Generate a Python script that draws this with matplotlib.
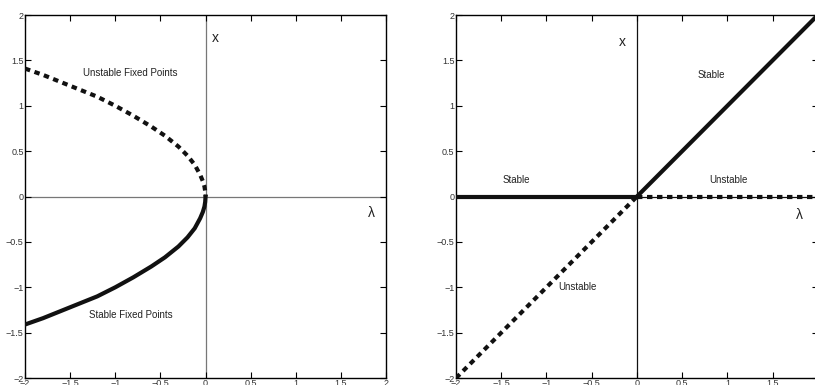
import matplotlib.pyplot as plt

plt.rcParams['font.family'] = ['Liberation Sans', 'DejaVu Sans']

# saddle-node branch
lam_branch = [-2.0, -1.8, -1.6, -1.4, -1.2, -1.0, -0.8, -0.6, -0.45, -0.3, -0.2,
              -0.12, -0.06, -0.03, -0.012, -0.004, 0.0]
x_unstable = [1.41, 1.34, 1.26, 1.18, 1.10, 1.0, 0.89, 0.77, 0.67, 0.55, 0.45,
              0.35, 0.24, 0.17, 0.11, 0.06, 0.0]
x_stable = [-1.41, -1.34, -1.26, -1.18, -1.10, -1.0, -0.89, -0.77, -0.67, -0.55, -0.45,
            -0.35, -0.24, -0.17, -0.11, -0.06, 0.0]

# transcritical branches, right panel
lam_neg = [-2.0, 0.0]
lam_pos = [0.0, 2.0]
x_zero = [0.0, 0.0]
x_diag_neg = [-2.0, 0.0]
x_diag_pos = [0.0, 2.0]

ticks_x = [-2, -1.5, -1, -0.5, 0, 0.5, 1, 1.5, 2]
ticks_y = [-2, -1.5, -1, -0.5, 0, 0.5, 1, 1.5, 2]
tick_labels = ['\u22122', '\u22121.5', '\u22121', '\u22120.5', '0', '0.5', '1', '1.5', '2']

dots = (0, (1.3, 1.1))


def style_axes(ax, axis_color):
    ax.set_xlim(-2, 2)
    ax.set_ylim(-2, 2)
    ax.set_xticks(ticks_x)
    ax.set_yticks(ticks_y)
    ax.set_xticklabels(tick_labels)
    ax.set_yticklabels(tick_labels)
    ax.tick_params(direction='in', length=4, width=0.8, top=True, right=True,
                   labelsize=6.5, labelcolor='#333333', pad=1)
    for s in ax.spines.values():
        s.set_linewidth(1.0)
    ax.axhline(0, color=axis_color, lw=0.9, zorder=1)
    ax.axvline(0, color=axis_color, lw=0.9, zorder=1)


fig = plt.figure(figsize=(8.15, 3.85), dpi=100)
ax1 = fig.add_axes([0.0307, 0.018, 0.443, 0.943])
ax2 = fig.add_axes([0.5595, 0.018, 0.444, 0.943])

# left panel
style_axes(ax1, '#777777')
ax1.plot(lam_branch, x_unstable, color='#111111', lw=3, linestyle=dots, zorder=3)
ax1.plot(lam_branch, x_stable, color='#111111', lw=3, zorder=3)
ax1.text(-0.83, 1.36, 'Unstable Fixed Points', fontsize=7, ha='center', va='center', color='#222222')
ax1.text(-0.83, -1.31, 'Stable Fixed Points', fontsize=7, ha='center', va='center', color='#222222')
ax1.text(0.07, 1.75, 'x', fontsize=10, ha='left', va='center', color='#222222')
ax1.text(1.84, -0.18, '\u03bb', fontsize=10, ha='center', va='center', color='#222222')

# right panel
style_axes(ax2, '#111111')
ax2.plot(lam_neg, x_zero, color='#111111', lw=3, zorder=3)
ax2.plot(lam_pos, x_zero, color='#111111', lw=3, linestyle=dots, zorder=3)
ax2.plot(lam_neg, x_diag_neg, color='#111111', lw=3, linestyle=dots, zorder=3)
ax2.plot(lam_pos, x_diag_pos, color='#111111', lw=3, zorder=3)
ax2.text(0.82, 1.34, 'Stable', fontsize=7, ha='center', va='center', color='#222222')
ax2.text(-1.33, 0.18, 'Stable', fontsize=7, ha='center', va='center', color='#222222')
ax2.text(1.01, 0.18, 'Unstable', fontsize=7, ha='center', va='center', color='#222222')
ax2.text(-0.66, -1.0, 'Unstable', fontsize=7, ha='center', va='center', color='#222222')
ax2.text(-0.2, 1.7, 'x', fontsize=10, ha='left', va='center', color='#222222')
ax2.text(1.8, -0.2, '\u03bb', fontsize=10, ha='center', va='center', color='#222222')

fig.savefig('out.png', dpi=100)
